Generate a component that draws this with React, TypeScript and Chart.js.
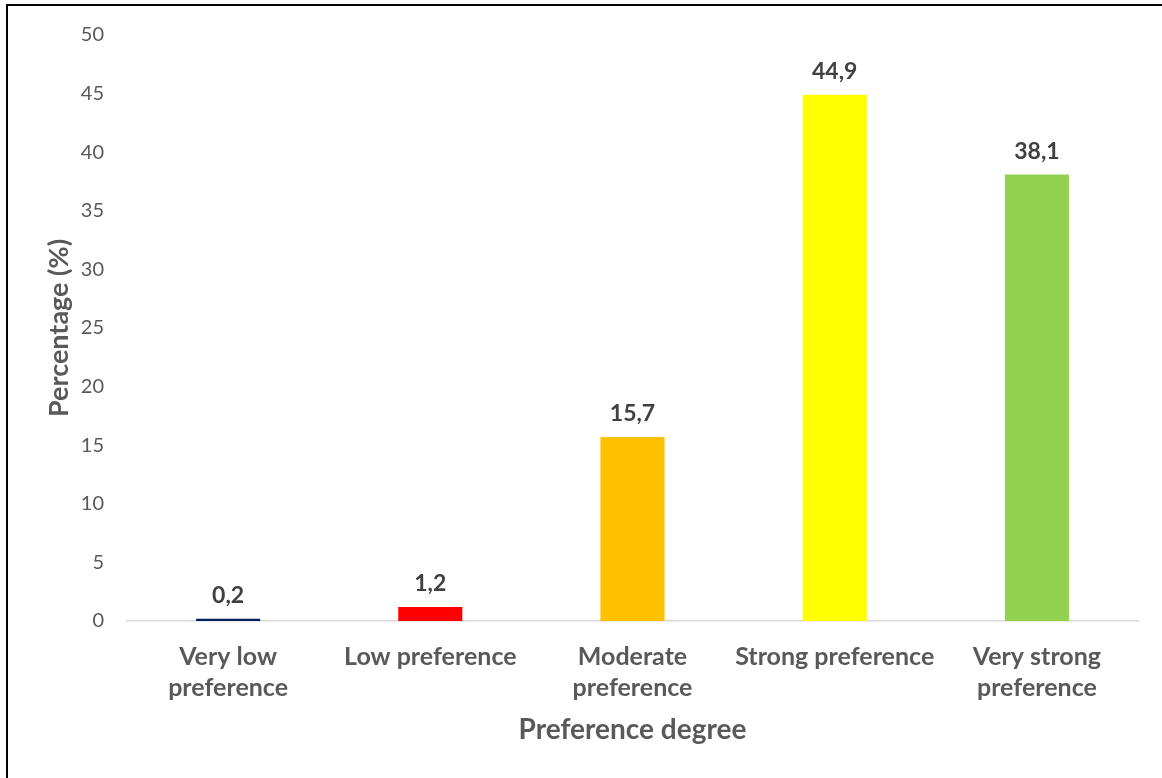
import React, { useEffect, useRef } from "react";
import { Chart, registerables } from "chart.js";

Chart.register(...registerables);

const categories: string[][] = [
  ["Very low", "preference"],
  ["Low preference"],
  ["Moderate", "preference"],
  ["Strong preference"],
  ["Very strong", "preference"],
];
const percentages: number[] = [0.2, 1.2, 15.7, 44.9, 38.1];
const barColors: string[] = ["#002060", "#FF0000", "#FFC000", "#FFFF00", "#92D050"];
const yTicks: number[] = [0, 5, 10, 15, 20, 25, 30, 35, 40, 45, 50];

const FONT = "Lato, 'Open Sans', sans-serif";

const valueLabels = {
  id: "valueLabels",
  afterDatasetsDraw(chart: any) {
    const ctx = chart.ctx;
    const meta = chart.getDatasetMeta(0);
    ctx.save();
    ctx.font = `bold 23px ${FONT}`;
    ctx.fillStyle = "#404040";
    ctx.textAlign = "center";
    ctx.textBaseline = "middle";
    meta.data.forEach((bar: any, i: number) => {
      const text = percentages[i].toFixed(1).replace(".", ",");
      ctx.fillText(text, bar.x, bar.y - 23);
    });
    ctx.restore();
  },
};

export default function App() {
  const canvasRef = useRef<HTMLCanvasElement | null>(null);

  useEffect(() => {
    document.body.style.margin = "0";
    const canvas = canvasRef.current;
    if (!canvas) return;
    const chart = new Chart(canvas, {
      type: "bar",
      data: {
        labels: categories,
        datasets: [
          {
            data: percentages,
            backgroundColor: barColors,
            borderWidth: 0,
            categoryPercentage: 1,
            barPercentage: 0.317,
          },
        ],
      },
      options: {
        animation: false,
        responsive: false,
        maintainAspectRatio: false,
        layout: { padding: { left: 38, top: 31, right: 24, bottom: 0 } },
        plugins: {
          legend: { display: false },
          tooltip: { enabled: false },
        },
        scales: {
          x: {
            grid: { display: false, drawTicks: false },
            border: { display: true, color: "#D9D9D9", width: 1.5 },
            ticks: {
              color: "#595959",
              font: { family: FONT, size: 25, weight: "bold", lineHeight: "31px" },
              padding: 20,
              maxRotation: 0,
              autoSkip: false,
            },
            title: {
              display: true,
              text: "Preference degree",
              color: "#595959",
              font: { family: FONT, size: 28, weight: "bold" },
              padding: { top: 0, bottom: 31 },
            },
            afterFit(scale: any) {
              scale.height = 157;
            },
          },
          y: {
            min: 0,
            max: 50,
            afterBuildTicks(scale: any) {
              scale.ticks = yTicks.map((v) => ({ value: v }));
            },
            grid: { display: false, drawTicks: false },
            border: { display: false },
            ticks: {
              color: "#595959",
              font: { family: FONT, size: 20 },
              padding: 23,
            },
            title: {
              display: true,
              text: "Percentage (%)",
              color: "#595959",
              font: { family: FONT, size: 27, weight: "bold" },
              padding: { top: 5, bottom: 0 },
            },
            afterFit(scale: any) {
              scale.width = 127 - 38;
            },
          },
        },
      },
      plugins: [valueLabels],
    });
    return () => chart.destroy();
  }, []);

  return (
    <div style={{ position: "relative", width: 1162, height: 778, background: "#fff", overflow: "hidden" }}>
      <div
        style={{
          position: "absolute",
          left: 6,
          top: 4,
          right: -10,
          bottom: -10,
          borderLeft: "2px solid #000",
          borderTop: "2px solid #000",
          pointerEvents: "none",
        }}
      />
      <canvas ref={canvasRef} width={1162} height={778} style={{ position: "absolute", left: 0, top: 0 }} />
    </div>
  );
}
